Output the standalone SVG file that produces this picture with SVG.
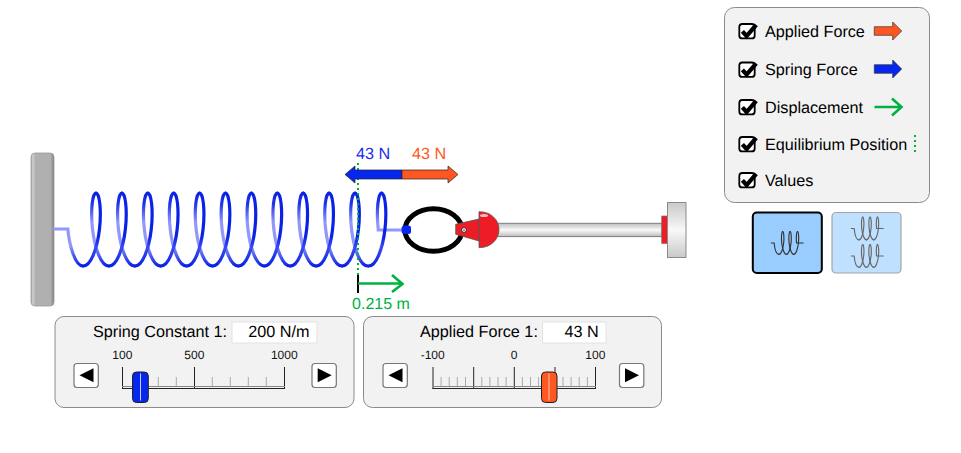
<svg xmlns="http://www.w3.org/2000/svg" xmlns:xlink="http://www.w3.org/1999/xlink" width="961" height="453" viewBox="0 0 961 453">
<style>
text{font-family:"Liberation Sans",Arial,sans-serif;fill:#000;text-rendering:geometricPrecision}
.lab{font-size:16.2px}
.tick{font-size:12px;text-anchor:middle;fill:#111}
.panel{fill:#f2f2f2;stroke:#8a8a8a;stroke-width:1}
.inp{fill:#fff;stroke:#e2e2e2;stroke-width:1}
.btn{fill:#fff;stroke:#777;stroke-width:1.2}
.maj{stroke:#222;stroke-width:1;fill:none}
.min{stroke:#aaa;stroke-width:1;fill:none}
.coil{fill:none;stroke-width:3.2;stroke-linecap:round}
.mini{fill:none;stroke-width:4;stroke-linecap:round}
.grn{fill:none;stroke:#00b140;stroke-width:2.6}
.dot{fill:none;stroke:#00b140;stroke-width:2;stroke-dasharray:2 3}
.blue{fill:#0628ee}
.orange{fill:#ff5722}
</style>
<defs>
<linearGradient id="rise" gradientUnits="userSpaceOnUse" x1="0" y1="-36.5" x2="0" y2="36.5">
<stop offset="0" stop-color="#0a22e6"/><stop offset=".6" stop-color="#0a22e6"/><stop offset=".75" stop-color="#3a4cf0"/><stop offset="1" stop-color="#0a22e6"/>
</linearGradient>
<linearGradient id="fall" gradientUnits="userSpaceOnUse" x1="0" y1="-36.5" x2="0" y2="36.5">
<stop offset="0" stop-color="#0a22e6"/><stop offset=".15" stop-color="#2034e8"/><stop offset=".4" stop-color="#9298fb"/><stop offset=".72" stop-color="#9298fb"/><stop offset="1" stop-color="#0a22e6"/>
</linearGradient>
<linearGradient id="wallG" x1="0" x2="1" y1="0" y2="0">
<stop offset="0" stop-color="#a8a8a8"/><stop offset=".08" stop-color="#cfcfcf"/><stop offset=".2" stop-color="#b0b0b0"/><stop offset=".85" stop-color="#b0b0b0"/><stop offset="1" stop-color="#808080"/>
</linearGradient>
<linearGradient id="rodG" x1="0" x2="0" y1="0" y2="1">
<stop offset="0" stop-color="#bdbdbd"/><stop offset=".5" stop-color="#fafafa"/><stop offset="1" stop-color="#bdbdbd"/>
</linearGradient>
<linearGradient id="baseG" x1="0" x2="0" y1="0" y2="1">
<stop offset="0" stop-color="#c9c9c9"/><stop offset=".5" stop-color="#f8f8f8"/><stop offset="1" stop-color="#c9c9c9"/>
</linearGradient>
<path id="r" d="M-12.95 36.5C-9.33 36.5-5.72 32.57-2.85 25.81C.02 19.05 2.35 9.56 3.43 0C4.51-9.56 4.54-19.05 3.82-25.81C3.1-32.57 1.46-36.5 0-36.5"/>
<path id="d" d="M0-36.5C-1.46-36.5-3.1-32.57-3.82-25.81C-4.54-19.05-4.51-9.56-3.43 0C-2.35 9.56-.02 19.05 2.85 25.81C5.72 32.57 9.33 36.5 12.95 36.5"/>
<g id="coil3" class="mini">
<path d="M-40 0H-30C-28 20-24 36.5-13 36.5"/>
<use xlink:href="#r" x="0"/><use xlink:href="#d" x="0"/>
<use xlink:href="#r" x="25.9"/><use xlink:href="#d" x="25.9"/>
<use xlink:href="#r" x="51.8"/>
<path d="M51.8-36.5C50.3-36.5 48.9-32.6 48.2-25.8C47.5-19 47.5-9.6 48.6 0H72"/>
</g>
<g id="chk">
<rect x="-7.7" y="-7" width="15.4" height="14.4" rx="3" fill="#fff" stroke="#000" stroke-width="1.8"/>
<path d="M-4.6 .3L-.4 5L9.2 -6.2" fill="none" stroke="#000" stroke-width="4.2"/>
</g>
<path id="bigArrow" d="M0-4.3H18.4V-9L27.4 0L18.4 9V4.3H0Z" stroke="#333" stroke-width=".7"/>
<path id="triL" d="M0 0L14-7V7Z" fill="#000"/>
<path id="triR" d="M14 0L0-7V7Z" fill="#000"/>
</defs>

<g id="wall"><rect x="31" y="153" width="23" height="153" rx="4" fill="url(#wallG)" stroke="#9a9a9a" stroke-width=".8"/></g>

<g id="spring">
<g class="coil" transform="translate(96 229.5)">
<g stroke="url(#fall)">
<path d="M-42 -.5H-28.2C-26.7 15.5-21 36.5-13 36.5"/>
<use xlink:href="#d" x="0"/><use xlink:href="#d" x="25.9"/><use xlink:href="#d" x="51.8"/><use xlink:href="#d" x="77.7"/><use xlink:href="#d" x="103.6"/><use xlink:href="#d" x="129.5"/><use xlink:href="#d" x="155.4"/><use xlink:href="#d" x="181.3"/><use xlink:href="#d" x="207.2"/><use xlink:href="#d" x="233.1"/><use xlink:href="#d" x="259"/>
<path d="M285.5-36.5C284-36.5 282.6-32.6 281.9-25.8C281.2-19 281.2-9.6 282.3 0V.5H307"/>
</g>
<g stroke="url(#rise)">
<use xlink:href="#r" x="0"/><use xlink:href="#r" x="25.9"/><use xlink:href="#r" x="51.8"/><use xlink:href="#r" x="77.7"/><use xlink:href="#r" x="103.6"/><use xlink:href="#r" x="129.5"/><use xlink:href="#r" x="155.4"/><use xlink:href="#r" x="181.3"/><use xlink:href="#r" x="207.2"/><use xlink:href="#r" x="233.1"/><use xlink:href="#r" x="259"/><use xlink:href="#r" x="285.5"/>
</g>
</g>
</g>

<g id="hook">
<ellipse cx="433.5" cy="230" rx="28.5" ry="21.3" fill="none" stroke="#000" stroke-width="5"/>
<rect class="blue" x="401.6" y="225.5" width="9.4" height="8.6" rx="2.5"/>
</g>

<g id="rod">
<rect x="495" y="223.3" width="167" height="13.3" fill="url(#rodG)" stroke="#7f7f7f" stroke-width="1"/>
<rect x="661.7" y="216" width="6" height="27.5" fill="#ee1c25" stroke="#777" stroke-width=".7"/>
<rect x="667.5" y="202.5" width="18.5" height="55" fill="url(#baseG)" stroke="#8a8a8a" stroke-width="1"/>
</g>

<g id="hand">
<path d="M455.7 224.3L479 219V241L455.7 234.3Z" fill="#ee1c25" stroke="#555" stroke-width=".8"/>
<path d="M479 211.7C491 211.5 499 220 499 229.5C499 239 491 247.8 479 247.7Z" fill="#ee1c25" stroke="#555" stroke-width=".8"/>
<ellipse cx="484" cy="215.5" rx="4" ry="1.5" fill="#fbb"/>
<circle cx="464" cy="230" r="2.4" fill="#fff" stroke="#333" stroke-width="1"/>
<circle cx="464" cy="230" r=".8" fill="#333"/>
</g>

<g id="equilibrium"><path class="dot" d="M358 163V275"/></g>

<g id="forces">
<path class="blue" stroke="#222" stroke-width=".7" d="M402 170H355V166L345 174.5L355 183V179H402Z"/>
<path class="orange" stroke="#222" stroke-width=".7" d="M402 170H448V166L458 174.5L448 183V179H402Z"/>
<text x="373" y="159" style="font-size:16.2px;text-anchor:middle;fill:#1a2ce8">43 N</text>
<text x="429" y="159" style="font-size:16.2px;text-anchor:middle;fill:#ff5722">43 N</text>
</g>

<g id="displacement">
<path d="M358 275V293" stroke="#000" stroke-width="2" fill="none"/>
<path class="grn" d="M358 283.5H402M392 275L402.5 284L392 292"/>
<text x="381" y="309" style="font-size:16px;text-anchor:middle;fill:#00b140">0.215 m</text>
</g>

<g id="legend">
<rect class="panel" x="724.5" y="7.5" width="205" height="195" rx="10"/>
<use xlink:href="#chk" x="747" y="31"/><text class="lab" x="765" y="36.5">Applied Force</text>
<use xlink:href="#chk" x="747" y="69.5"/><text class="lab" x="765" y="75">Spring Force</text>
<use xlink:href="#chk" x="747" y="107"/><text class="lab" x="765" y="113">Displacement</text>
<use xlink:href="#chk" x="747" y="144"/><text class="lab" x="765" y="150">Equilibrium Position</text>
<use xlink:href="#chk" x="747" y="180"/><text class="lab" x="765" y="186">Values</text>
<use xlink:href="#bigArrow" class="orange" x="874.3" y="31"/>
<use xlink:href="#bigArrow" class="blue" x="874.3" y="69"/>
<path class="grn" d="M874.5 107H901M892 98.5L901.5 107L892 115.5"/>
<path class="dot" d="M915 135V153"/>
</g>

<g id="modeSingle">
<rect x="752.8" y="212.5" width="69" height="60.5" rx="4" fill="#99ccff" stroke="#000" stroke-width="2"/>
<use xlink:href="#coil3" transform="translate(782.7 243) scale(.285 .31)" stroke="#333"/>
</g>
<g id="modeDouble">
<rect x="832" y="212.5" width="69" height="60.5" rx="4" fill="#bfe0ff" stroke="#a4a4a4" stroke-width="1.2"/>
<use xlink:href="#coil3" transform="translate(862.7 228.5) scale(.285 .31)" stroke="#666"/>
<use xlink:href="#coil3" transform="translate(862.7 256) scale(.285 .31)" stroke="#666"/>
</g>

<g id="springConstantControl">
<rect class="panel" x="55" y="316.5" width="299" height="91" rx="9"/>
<text class="lab" x="93" y="337">Spring Constant 1:</text>
<rect class="inp" x="232" y="322" width="85" height="21"/>
<text class="lab" x="309.5" y="337" text-anchor="end">200 N/m</text>
<text class="tick" x="122.3" y="358.5">100</text><text class="tick" x="194.3" y="358.5">500</text><text class="tick" x="284.3" y="358.5">1000</text>
<path class="min" d="M140.3 377V387M158.3 377V387M176.3 377V387M212.3 377V387M230.3 377V387M248.3 377V387M266.3 377V387"/>
<path class="maj" d="M122.5 367V389M194.5 367V389M284.5 367V389"/>
<path d="M122 386.5H285" stroke="#888" stroke-width="1" fill="none"/><path class="maj" d="M122 388.5H285"/>
<rect class="btn" x="74" y="363.5" width="24.3" height="24" rx="3"/><use xlink:href="#triL" x="79.5" y="375.3"/>
<rect class="btn" x="312" y="363.5" width="24.3" height="24" rx="3"/><use xlink:href="#triR" x="317.7" y="375.3"/>
<rect class="blue" x="132.5" y="372" width="15.8" height="30.5" rx="4" stroke="#222" stroke-width="1"/>
<path d="M140.5 373.5V400.5" stroke="#c8ccff" stroke-width="1" fill="none"/>
</g>

<g id="appliedForceControl">
<rect class="panel" x="363.5" y="316.5" width="298" height="91" rx="9"/>
<text class="lab" x="420" y="337">Applied Force 1:</text>
<rect class="inp" x="542.5" y="322" width="63.5" height="21"/>
<text class="lab" x="598.7" y="337" text-anchor="end">43 N</text>
<text class="tick" x="432.7" y="358.5">-100</text><text class="tick" x="514" y="358.5">0</text><text class="tick" x="595.3" y="358.5">100</text>
<path class="min" d="M441.1 377V387M449.2 377V387M457.3 377V387M465.5 377V387M481.8 377V387M489.9 377V387M498 377V387M506.1 377V387M522.4 377V387M530.5 377V387M538.6 377V387M546.8 377V387M563 377V387M571.1 377V387M579.2 377V387M587.4 377V387"/>
<path class="maj" d="M433 367V389M473.7 367V389M514.3 367V389M555 367V389M595.5 367V389"/>
<path d="M432.5 386.5H596" stroke="#888" stroke-width="1" fill="none"/><path class="maj" d="M432.5 388.5H596"/>
<rect class="btn" x="383" y="363.5" width="24.3" height="24" rx="3"/><use xlink:href="#triL" x="388.5" y="375.3"/>
<rect class="btn" x="619.5" y="363.5" width="24.3" height="24" rx="3"/><use xlink:href="#triR" x="625" y="375.3"/>
<rect class="orange" x="541.5" y="372" width="15.5" height="30.5" rx="4" stroke="#222" stroke-width="1"/>
<path d="M549 373.5V400.5" stroke="#ffc9b5" stroke-width="1" fill="none"/>
</g>
</svg>
